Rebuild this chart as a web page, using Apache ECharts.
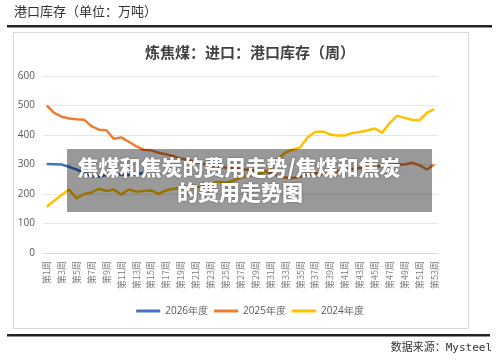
<!DOCTYPE html>
<html><head><meta charset="utf-8">
<script src="https://cdn.jsdelivr.net/npm/echarts@6/dist/echarts.min.js"></script>
<style>html,body{margin:0;padding:0;background:#fff}#c{width:500px;height:361px}</style>
</head><body><div id="c"></div>
<script>
var weeks = ['第1周','第2周','第3周','第4周','第5周','第6周','第7周','第8周','第9周','第10周','第11周','第12周','第13周','第14周','第15周','第16周','第17周','第18周','第19周','第20周','第21周','第22周','第23周','第24周','第25周','第26周','第27周','第28周','第29周','第30周','第31周','第32周','第33周','第34周','第35周','第36周','第37周','第38周','第39周','第40周','第41周','第42周','第43周','第44周','第45周','第46周','第47周','第48周','第49周','第50周','第51周','第52周','第53周'];
var y2026 = [302,301,300,292,283,272,260,259,264,268,265,264,268,271];
var y2025 = [500,475,462,456,453,452,430,418,416,387,392,377,362,350,348,340,335,328,320,315,308,302,298,293,290,288,285,282,280,278,272,262,256,254,258,265,270,268,272,276,282,285,288,290,292,295,298,300,300,306,298,283,300];
var y2024 = [157,177,197,215,185,200,205,218,210,215,198,215,208,210,212,200,212,218,220,222,224,225,235,242,238,245,255,262,265,272,285,318,340,350,358,392,410,412,402,398,398,407,410,415,422,408,440,465,458,452,450,475,488];
var yTicks = [0,100,200,300,400,500,600];
var seriesNames = ['2026年度','2025年度','2024年度'];
var colors = ['#4472C4','#ED7D31','#FFC000'];

var chart = echarts.init(document.getElementById('c'));
var cjk = '"Noto Sans CJK SC", sans-serif';
chart.setOption({
  animation:false,
  color: colors,
  title:{text:'炼焦煤：进口：港口库存（周）',left:'center',top:40,
    textStyle:{fontFamily:cjk,fontSize:15,fontWeight:'bold',color:'#404040'}},
  legend:{bottom:40,left:'center',itemWidth:24,itemHeight:3,itemGap:6,icon:'rect',
    textStyle:{fontFamily:'"Open Sans", sans-serif',fontSize:10,color:'#595959'},
    data:seriesNames},
  grid:{left:43,right:62,top:76,bottom:108},
  xAxis:{type:'category',data:weeks,boundaryGap:true,
    axisLine:{lineStyle:{color:'#d9d9d9'}},axisTick:{show:false},
    axisLabel:{rotate:90,interval:1,fontSize:9,color:'#7f7f7f',margin:8,fontFamily:cjk}},
  yAxis:{type:'value',min:yTicks[0],max:yTicks[yTicks.length-1],interval:100,
    axisLine:{show:false},axisTick:{show:false},
    splitLine:{lineStyle:{color:'#e6e6e6'}},
    axisLabel:{fontSize:10,color:'#595959',margin:8,fontFamily:'"Open Sans", sans-serif'}},
  series:[
    {name:seriesNames[0],type:'line',data:y2026,symbol:'none',lineStyle:{width:2.5}},
    {name:seriesNames[1],type:'line',data:y2025,symbol:'none',lineStyle:{width:2.5}},
    {name:seriesNames[2],type:'line',data:y2024,symbol:'none',lineStyle:{width:2.5}}
  ],
  graphic:[
    {type:'text',left:14,top:5,style:{text:'港口库存（单位：万吨）',font:'13px '+cjk,fill:'#333',letterSpacing:1.5}},
    {type:'rect',shape:{x:7,y:25,width:485,height:2.5},style:{fill:'#222'}},
    {type:'rect',shape:{x:13.5,y:32.5,width:455,height:296},style:{fill:'none',stroke:'#d9d9d9',lineWidth:1},z:-1},
    {type:'rect',shape:{x:7,y:334,width:483,height:2.5},style:{fill:'#222'}},
    {type:'text',right:8,top:343,style:{text:'数据来源：Mysteel',font:'11px "DejaVu Sans Mono", '+cjk,fill:'#333'}},
    {type:'rect',z:100,shape:{x:67,y:149,width:365,height:63},style:{fill:'rgba(0,0,0,0.4)'}},
    {type:'text',z:101,x:239,y:167,style:{text:'焦煤和焦炭的费用走势/焦煤和焦炭',font:'900 21px '+cjk,fill:'#fff',align:'center',verticalAlign:'middle',textShadowColor:'rgba(0,0,0,0.5)',textShadowBlur:2}},
    {type:'text',z:101,x:240,y:192,style:{text:'的费用走势图',font:'900 21px '+cjk,fill:'#fff',align:'center',verticalAlign:'middle',textShadowColor:'rgba(0,0,0,0.5)',textShadowBlur:2}}
  ]
});
</script></body></html>
